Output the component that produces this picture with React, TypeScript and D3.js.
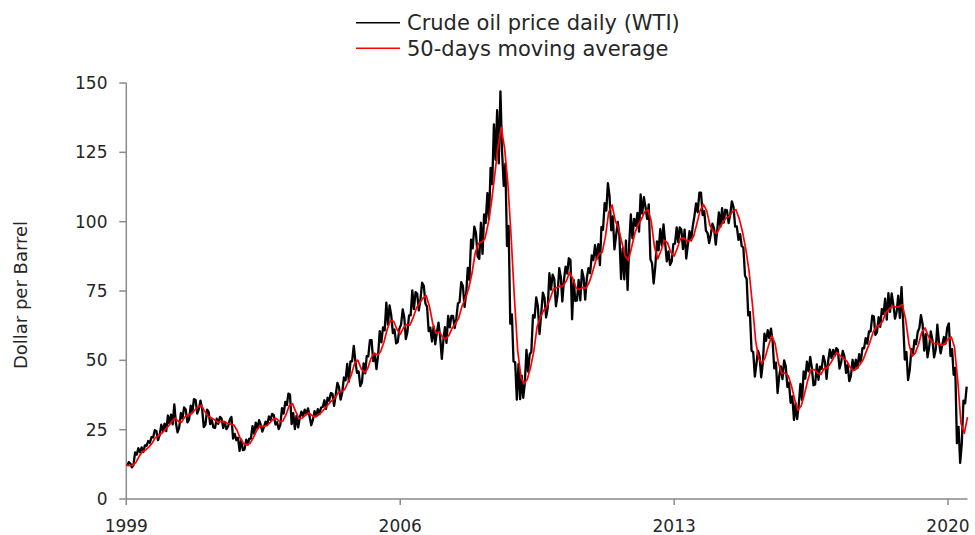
import React from "react";
import * as d3 from "d3";

// Monthly range of daily WTI closes (Jan 1999 .. Jun 2020), USD per barrel
const priceLow: number[] = [
  11.9, 11.4, 12.3, 16.0, 16.8, 16.9, 19.2, 20.2, 22.2, 21.2, 23.0, 24.6,
  24.5, 27.2, 26.9, 24.0, 25.7, 29.1, 27.6, 28.6, 31.4, 30.8, 32.5, 25.9,
  26.8, 27.0, 25.8, 25.6, 27.1, 25.6, 25.2, 26.2, 21.8, 21.2, 17.4, 17.6,
  17.9, 19.6, 21.8, 23.5, 25.4, 24.3, 25.9, 26.7, 28.5, 26.8, 25.2, 26.7,
  30.8, 33.9, 27.0, 25.2, 25.8, 29.3, 29.9, 30.6, 26.6, 28.5, 29.8, 30.6,
  33.2, 32.5, 35.4, 33.6, 37.5, 35.8, 38.4, 42.8, 42.3, 49.6, 45.5, 40.7,
  42.1, 45.3, 51.4, 49.7, 46.8, 51.9, 56.5, 60.8, 62.8, 59.8, 56.1, 56.6,
  62.9, 57.7, 60.1, 66.2, 68.5, 68.0, 72.0, 70.5, 60.5, 56.8, 55.8, 60.0,
  50.5, 57.3, 56.3, 61.9, 61.6, 65.1, 71.0, 69.3, 74.0, 79.0, 90.4, 87.5,
  86.6, 88.4, 99.5, 100.9, 113.5, 122.3, 121.0, 112.9, 91.2, 63.2, 49.6, 35.8,
  36.0, 36.5, 41.7, 45.9, 53.0, 65.4, 59.5, 66.7, 65.5, 68.9, 75.5, 69.5,
  73.6, 71.2, 78.8, 81.3, 64.8, 71.4, 71.6, 71.6, 71.9, 79.6, 81.4, 86.1,
  86.6, 84.3, 97.1, 104.0, 96.9, 90.0, 94.9, 79.3, 79.2, 75.4, 92.2, 94.0,
  98.5, 96.4, 102.9, 101.0, 86.5, 77.7, 83.8, 89.7, 91.4, 85.7, 84.4, 85.6,
  92.1, 92.6, 90.1, 86.7, 91.6, 93.3, 101.9, 103.4, 102.4, 96.8, 92.3, 95.3,
  91.7, 97.3, 98.2, 99.7, 99.5, 102.7, 98.2, 93.4, 91.2, 80.5, 66.2, 53.5,
  44.1, 48.8, 43.9, 49.1, 57.0, 58.0, 47.1, 38.2, 44.3, 43.2, 40.4, 34.7,
  28.5, 28.8, 33.9, 35.7, 43.4, 46.0, 41.0, 41.3, 43.0, 46.9, 43.3, 49.8,
  50.8, 51.7, 47.0, 49.2, 45.5, 42.5, 44.4, 46.6, 47.3, 49.3, 54.3, 56.0,
  60.4, 59.2, 60.1, 62.1, 66.7, 64.7, 67.5, 65.0, 67.5, 65.3, 50.3, 42.9,
  46.5, 52.4, 55.8, 61.6, 53.5, 51.1, 54.6, 51.1, 53.9, 52.5, 55.5, 56.0,
  51.6, 44.8, 20.1, 13.0, 20.0, 34.5,
];

const priceHigh: number[] = [
  13.3, 12.8, 16.8, 18.3, 18.6, 19.3, 20.9, 22.3, 24.8, 24.5, 26.8, 27.2,
  30.1, 30.4, 34.1, 27.3, 31.0, 33.0, 32.3, 33.7, 36.0, 35.7, 35.5, 32.5,
  32.2, 31.3, 28.5, 29.0, 29.6, 29.0, 27.6, 28.6, 29.6, 23.5, 22.1, 21.4,
  21.4, 21.8, 26.3, 27.5, 28.4, 26.8, 27.9, 29.8, 30.7, 30.2, 27.7, 32.8,
  35.0, 38.0, 37.7, 31.0, 30.0, 31.5, 32.2, 32.7, 29.6, 31.7, 32.4, 33.0,
  35.6, 36.5, 38.2, 37.9, 41.9, 40.3, 43.8, 48.7, 49.6, 55.2, 49.6, 46.0,
  48.9, 51.5, 57.3, 57.3, 51.9, 60.5, 61.9, 70.8, 69.8, 66.3, 61.1, 61.4,
  68.4, 65.4, 66.2, 75.2, 74.6, 74.0, 78.0, 76.9, 69.3, 61.8, 62.2, 63.6,
  58.3, 62.0, 66.0, 66.0, 66.0, 70.5, 78.2, 76.8, 83.3, 93.5, 98.2, 96.0,
  99.6, 102.6, 110.3, 119.4, 135.1, 140.2, 147.0, 125.1, 120.9, 98.5, 66.6, 49.3,
  48.6, 44.5, 53.8, 52.2, 66.3, 72.7, 69.5, 74.4, 72.5, 81.4, 80.9, 79.4,
  83.2, 80.0, 83.8, 86.8, 86.2, 78.9, 79.0, 82.5, 79.9, 83.2, 87.8, 91.5,
  91.9, 98.1, 106.7, 113.9, 109.2, 101.9, 99.9, 94.9, 90.4, 93.2, 102.6, 101.0,
  103.2, 109.8, 108.8, 105.2, 106.2, 85.0, 92.9, 97.3, 99.0, 92.4, 89.3, 91.9,
  97.9, 97.9, 97.2, 97.1, 96.6, 98.4, 106.6, 110.5, 110.5, 103.8, 95.9, 99.3,
  97.4, 103.3, 104.9, 104.3, 104.1, 107.3, 105.3, 98.3, 95.5, 90.7, 79.4, 67.4,
  53.0, 53.5, 51.5, 59.6, 60.9, 61.4, 56.9, 49.2, 47.8, 50.0, 47.9, 41.9,
  37.0, 34.6, 41.5, 46.0, 49.5, 51.2, 47.4, 48.5, 47.7, 51.6, 49.4, 53.9,
  53.8, 54.4, 53.8, 53.4, 51.5, 48.3, 50.2, 50.2, 52.2, 54.4, 58.0, 60.4,
  66.1, 65.8, 65.6, 68.5, 72.2, 74.2, 74.1, 70.0, 73.3, 76.4, 63.7, 53.0,
  54.0, 57.3, 60.2, 66.3, 63.1, 59.4, 60.4, 57.3, 62.9, 56.6, 58.4, 61.7,
  63.3, 54.0, 47.3, 26.0, 35.5, 40.5,
];

// 50-day moving average at month boundaries (Jan 1 1999 .. Jul 1 2020)
const movingAverage: number[] = [
  12.3,
  12.0, 12.1, 13.2, 15.4, 17.1, 17.7, 18.8, 20.3, 22.2, 22.9, 23.8, 25.1,
  26.4, 28.0, 29.2, 28.0, 27.7, 29.6, 30.4, 30.7, 32.1, 33.2, 33.8, 31.7,
  29.9, 29.4, 28.6, 27.7, 27.9, 28.0, 27.3, 27.0, 26.7, 24.7, 21.7, 19.9,
  19.6, 20.1, 22.1, 24.6, 26.3, 26.2, 26.4, 27.4, 28.7, 29.1, 27.9, 28.1,
  30.5, 33.6, 34.4, 31.6, 29.0, 29.2, 30.3, 31.1, 30.1, 29.7, 30.3, 31.4,
  32.9, 34.1, 35.5, 36.4, 38.3, 38.8, 39.5, 42.1, 44.7, 48.9, 50.1, 47.0,
  45.6, 46.8, 50.5, 52.7, 51.9, 53.1, 56.4, 61.1, 64.3, 64.1, 61.2, 59.4,
  61.8, 62.9, 62.7, 65.3, 68.9, 70.7, 72.4, 73.3, 69.4, 63.2, 59.8, 60.3,
  58.4, 57.7, 59.0, 61.7, 63.2, 65.3, 69.6, 72.3, 75.8, 81.2, 88.6, 92.1,
  92.7, 93.8, 99.3, 106.9, 116.8, 126.9, 134.0, 126.5, 114.1, 94.6, 72.9, 53.6,
  43.9, 41.5, 43.2, 47.3, 53.3, 62.0, 65.6, 68.0, 69.3, 72.3, 75.7, 76.2,
  76.7, 76.9, 78.7, 81.7, 79.4, 76.1, 75.5, 76.3, 76.0, 78.2, 81.8, 86.0,
  88.4, 88.9, 94.7, 103.4, 106.0, 100.4, 97.5, 92.5, 87.7, 86.0, 90.8, 96.0,
  99.1, 100.8, 103.6, 104.3, 100.2, 90.9, 86.6, 89.6, 93.3, 92.3, 89.0, 87.6,
  90.6, 93.9, 94.2, 92.9, 93.2, 94.6, 99.3, 104.1, 106.2, 103.9, 98.7, 96.5,
  95.7, 97.7, 99.8, 101.3, 101.9, 103.7, 104.3, 101.0, 96.3, 90.0, 82.2, 70.3,
  56.9, 50.6, 48.9, 51.1, 55.4, 58.8, 56.0, 49.0, 45.3, 45.4, 44.5, 40.8,
  35.7, 32.0, 33.6, 37.8, 42.8, 46.6, 46.7, 45.4, 44.9, 47.1, 47.3, 49.0,
  51.2, 52.8, 51.6, 50.7, 49.7, 47.5, 46.3, 47.0, 48.5, 50.3, 53.4, 56.4,
  60.1, 62.1, 62.6, 64.1, 67.3, 68.5, 69.5, 69.3, 69.4, 70.1, 64.9, 56.1,
  51.5, 52.6, 55.8, 60.1, 61.7, 58.7, 56.8, 55.9, 56.1, 55.4, 55.7, 57.7,
  58.4, 54.9, 42.7, 27.3, 23.7, 29.5,
];

const yTicks: number[] = [0, 25, 50, 75, 100, 125, 150];
const xTickYears: number[] = [1999, 2006, 2013, 2020];
const legendLabels: string[] = ["Crude oil price daily (WTI)", "50-days moving average"];

const W = 975;
const H = 535;
const FONT = "DejaVu Sans, sans-serif";
const TEXT = "#262626";
const AXIS = "#8a8a8a";

const START = new Date(1999, 0, 1);
const monthDate = (f: number): Date => {
  const m = Math.floor(f);
  const d0 = d3.timeMonth.offset(START, m);
  const d1 = d3.timeMonth.offset(START, m + 1);
  return new Date(+d0 + (f - m) * (+d1 - +d0));
};

export default function App() {
  const x = d3
    .scaleTime()
    .domain([new Date(1999, 0, 1), new Date(2020, 6, 1)])
    .range([126.3, 967.5]);
  const y = d3.scaleLinear().domain([0, 150]).range([499, 83]);

  type P = { t: number; v: number };
  const daily: P[] = [];
  priceLow.forEach((lo, i) => {
    const hi = priceHigh[i];
    const mid = (lo + hi) / 2;
    const prevMid = i > 0 ? (priceLow[i - 1] + priceHigh[i - 1]) / 2 : mid;
    const rising = mid >= prevMid;
    daily.push({ t: i + 0.25, v: rising ? lo : hi });
    daily.push({ t: i + 0.75, v: rising ? hi : lo });
  });
  const maPts: P[] = movingAverage.map((v, i) => ({ t: i, v }));

  const line = d3
    .line<P>()
    .x((d) => x(monthDate(d.t)))
    .y((d) => y(d.v));

  const x0 = x.range()[0];
  const x1 = x.range()[1];

  return (
    <svg
      width={W}
      height={H}
      style={{ position: "absolute", left: 0, top: 0, background: "#fff" }}
      fontFamily={FONT}
    >
      {/* legend */}
      <g>
        <line x1={356} x2={400} y1={22.7} y2={22.7} stroke="#000" strokeWidth={1.5} />
        <text x={407} y={30} fontSize={21} fill={TEXT}>
          {legendLabels[0]}
        </text>
        <line x1={356} x2={400} y1={48.3} y2={48.3} stroke="#ff0000" strokeWidth={1.5} />
        <text x={407} y={55.5} fontSize={21} fill={TEXT}>
          {legendLabels[1]}
        </text>
      </g>

      {/* y axis */}
      <line x1={x0} x2={x0} y1={y(150)} y2={y(0)} stroke={AXIS} strokeWidth={1.5} />
      {yTicks.map((t) => (
        <g key={t}>
          <line x1={x0 - 7} x2={x0} y1={y(t)} y2={y(t)} stroke={AXIS} strokeWidth={1.5} />
          <text
            x={107.5}
            y={y(t)}
            textAnchor="end"
            dominantBaseline="central"
            fontSize={17}
            fill={TEXT}
          >
            {t}
          </text>
        </g>
      ))}
      <text
        transform={`translate(20.5,295) rotate(-90)`}
        textAnchor="middle"
        dominantBaseline="central"
        fontSize={18}
        fill={TEXT}
      >
        Dollar per Barrel
      </text>

      {/* x axis */}
      <line x1={x0} x2={x1} y1={y(0)} y2={y(0)} stroke={AXIS} strokeWidth={1.5} />
      {xTickYears.map((yr) => {
        const xx = x(new Date(yr, 0, 1));
        return (
          <g key={yr}>
            <line x1={xx} x2={xx} y1={y(0)} y2={y(0) + 6} stroke={AXIS} strokeWidth={1.5} />
            <text x={xx} y={531.5} textAnchor="middle" fontSize={17} fill={TEXT}>
              {yr}
            </text>
          </g>
        );
      })}

      {/* series */}
      <path
        d={line(daily) ?? ""}
        fill="none"
        stroke="#000"
        strokeWidth={2.3}
        strokeLinejoin="round"
      />
      <path
        d={line(maPts) ?? ""}
        fill="none"
        stroke="#ff0000"
        strokeWidth={1.7}
        strokeLinejoin="round"
      />
    </svg>
  );
}
